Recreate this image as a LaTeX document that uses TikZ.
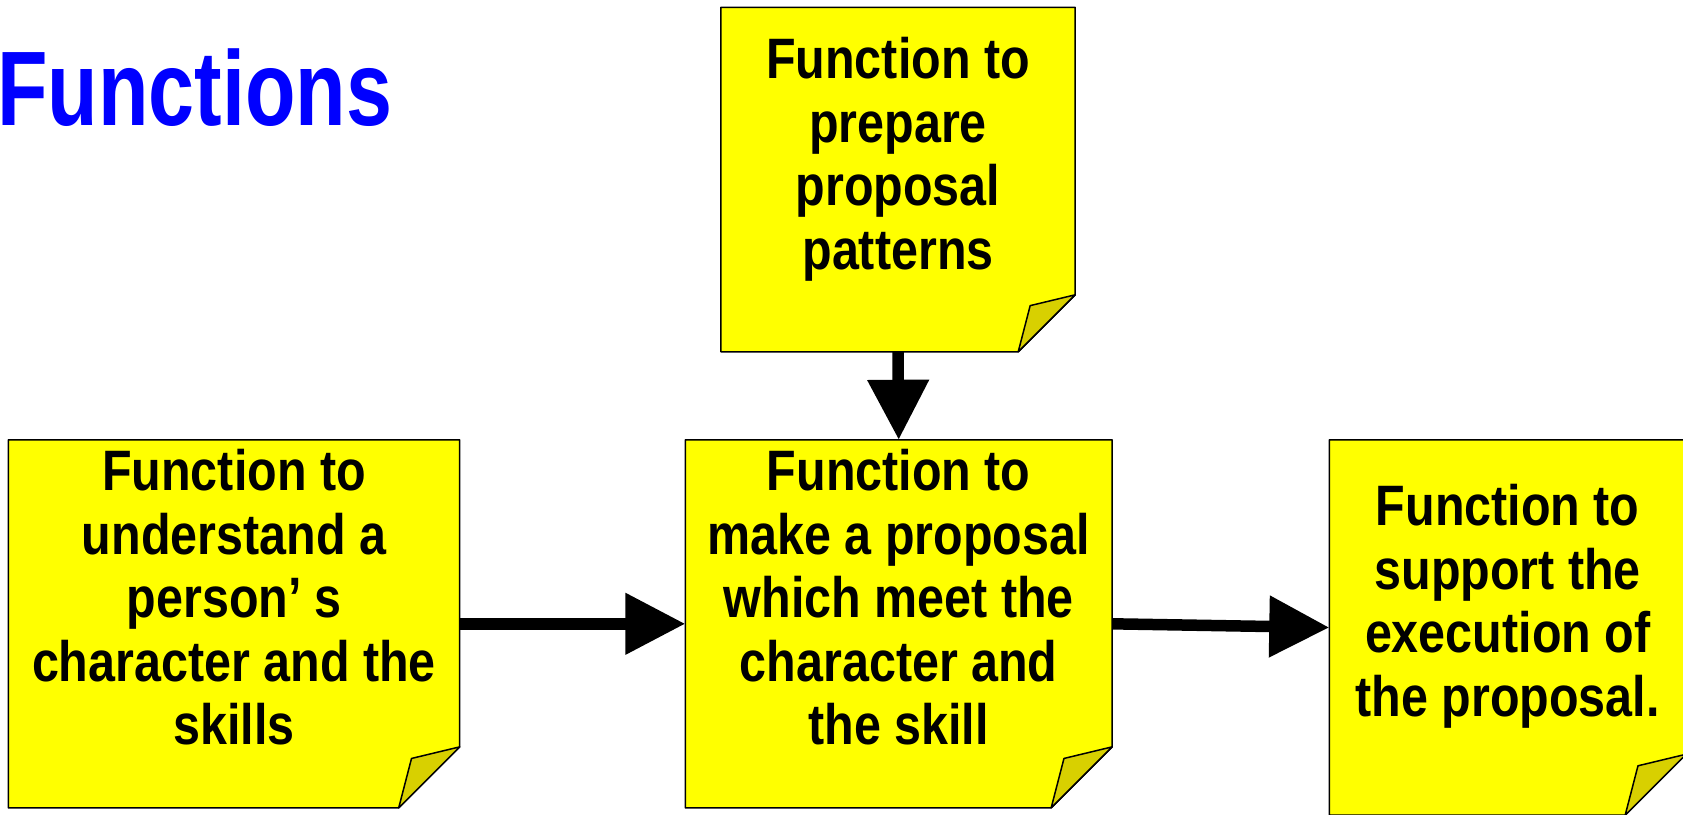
\documentclass[tikz,border=0pt]{standalone}
\usepackage{fontspec}
\usetikzlibrary{arrows.meta,calc}
\newfontfamily\cardfont{Liberation Sans}[FakeStretch=0.85]
\newfontfamily\titlefont{Liberation Sans}[FakeStretch=0.78]
\definecolor{notefill}{RGB}{255,255,0}
\definecolor{notefold}{RGB}{216,208,0}
\definecolor{titleblue}{RGB}{0,0,255}

\tikzset{
  card/.style={rectangle, inner sep=0pt, draw=none},
  cardtext/.style={anchor=north, inner sep=0pt, align=center,
    font=\cardfont\bfseries\fontsize{57}{63.6}\selectfont},
  flow/.style={line width=11.5pt, -{Triangle[length=60pt,width=59pt]}},
  noteedge/.style={draw=black, line width=1.5pt, line join=round},
}

% sticky note with a curled lower-right corner: #1 node name, #2 fold size
\newcommand\notecard[2]{%
  \filldraw[noteedge, fill=notefill]
    (#1.north west) -- (#1.north east) -- ($(#1.south east)+(0,-#2)$)
    -- ($(#1.south east)+(-#2,0)$) -- (#1.south west) -- cycle;
  \filldraw[noteedge, fill=notefold]
    ($(#1.south east)+(0,-#2)$) -- ($(#1.south east)+(-0.79*#2,-0.81*#2)$)
    -- ($(#1.south east)+(-#2,0)$) -- cycle;
}

\begin{document}
\begin{tikzpicture}[x=1pt, y=-1pt]
  \fill[white] (0,0) rectangle (1683,814);
  \useasboundingbox (0,0) rectangle (1683,814);

  % card frames
  \node[card, minimum width=354pt, minimum height=344pt] (prep) at (898,179.6) {};
  \node[card, minimum width=451pt, minimum height=367.7pt] (understand) at (234,623.8) {};
  \node[card, minimum width=426.5pt, minimum height=367.7pt] (propose) at (898.7,623.8) {};
  \node[card, minimum width=356.5pt, minimum height=375pt] (support) at (1507.7,627.5) {};

  \notecard{prep}{57}
  \notecard{understand}{61}
  \notecard{propose}{61}
  \notecard{support}{61}

  % card texts
  \node[cardtext] (prep-text) at (898,37) {Function to\\prepare\\proposal\\patterns};
  \node[cardtext] (understand-text) at (234,449) {Function to\\understand a\\person’\kern0.22em s\\character and the\\skills};
  \node[cardtext] (propose-text) at (898.7,449) {Function to\\make a proposal\\which meet the\\character and\\the skill};
  \node[cardtext] (support-text) at (1507.7,484) {Function to\\support the\\execution of\\the proposal.};

  % title
  \node[anchor=base west, inner sep=0pt, text=titleblue,
        font=\titlefont\bfseries\fontsize{106}{120}\selectfont] (title) at (-3,125) {Functions};

  % connectors
  \draw[flow] (prep.south) -- (propose.north);
  \draw[flow] (understand.east) -- (propose.west);
  \draw[flow] (propose.east) -- (support.west);
\end{tikzpicture}
\end{document}
